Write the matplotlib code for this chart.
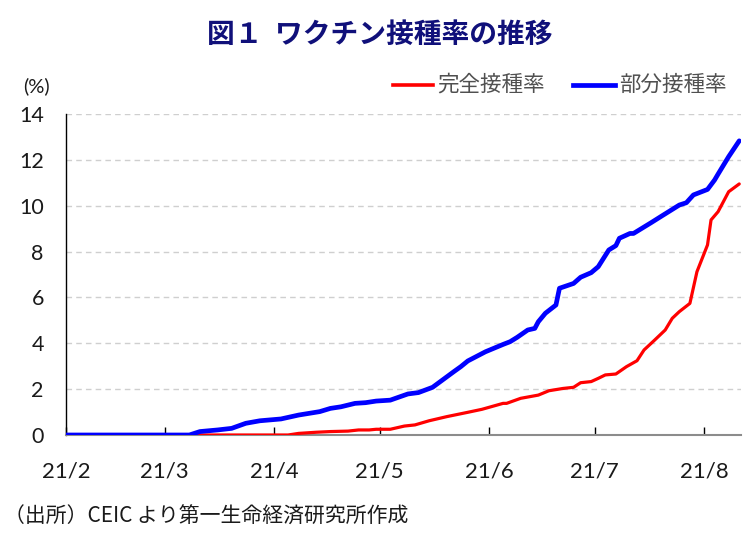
import matplotlib
matplotlib.use("Agg")
import matplotlib.pyplot as plt
import matplotlib.dates as mdates
import pandas as pd

# ---- data ----
partial_dates = ["2021-02-01", "2021-03-08", "2021-03-11", "2021-03-16", "2021-03-20", "2021-03-24",
                 "2021-03-28", "2021-04-03", "2021-04-08", "2021-04-14", "2021-04-17", "2021-04-20",
                 "2021-04-24", "2021-04-27", "2021-04-30", "2021-05-04", "2021-05-09", "2021-05-12",
                 "2021-05-16", "2021-05-22", "2021-05-24", "2021-05-26", "2021-05-31", "2021-06-05",
                 "2021-06-07", "2021-06-09", "2021-06-12", "2021-06-14", "2021-06-15", "2021-06-17",
                 "2021-06-20", "2021-06-21", "2021-06-25", "2021-06-27", "2021-06-30", "2021-07-02",
                 "2021-07-05", "2021-07-07", "2021-07-08", "2021-07-11", "2021-07-12", "2021-07-17",
                 "2021-07-20", "2021-07-25", "2021-07-27", "2021-07-29", "2021-08-02", "2021-08-04",
                 "2021-08-05", "2021-08-08", "2021-08-11"]
partial_vals = [0.0, 0.0, 0.15, 0.22, 0.29, 0.51,
                0.62, 0.70, 0.87, 1.02, 1.16, 1.23,
                1.38, 1.41, 1.48, 1.52, 1.79, 1.85,
                2.08, 2.76, 2.98, 3.23, 3.63, 3.95,
                4.07, 4.26, 4.58, 4.65, 4.94, 5.31,
                5.67, 6.40, 6.61, 6.88, 7.08, 7.34,
                8.07, 8.26, 8.58, 8.79, 8.79, 9.26,
                9.55, 10.03, 10.13, 10.47, 10.71, 11.12,
                11.38, 12.14, 12.83]

full_dates = ["2021-02-01", "2021-04-05", "2021-04-08", "2021-04-13", "2021-04-17", "2021-04-22",
              "2021-04-25", "2021-04-28", "2021-04-30", "2021-05-04", "2021-05-08", "2021-05-11",
              "2021-05-15", "2021-05-20", "2021-05-26", "2021-05-30", "2021-06-05", "2021-06-06",
              "2021-06-10", "2021-06-15", "2021-06-18", "2021-06-22", "2021-06-25", "2021-06-27",
              "2021-06-30", "2021-07-02", "2021-07-04", "2021-07-07", "2021-07-10", "2021-07-13",
              "2021-07-15", "2021-07-18", "2021-07-21", "2021-07-23", "2021-07-25", "2021-07-28",
              "2021-07-30", "2021-08-02", "2021-08-03", "2021-08-05", "2021-08-08", "2021-08-11"]
full_vals = [0.0, 0.0, 0.07, 0.12, 0.15, 0.17,
             0.22, 0.22, 0.25, 0.25, 0.39, 0.44,
             0.62, 0.80, 0.99, 1.12, 1.38, 1.38,
             1.60, 1.74, 1.93, 2.03, 2.08, 2.28,
             2.33, 2.47, 2.62, 2.66, 2.98, 3.24,
             3.71, 4.14, 4.58, 5.09, 5.38, 5.74,
             7.12, 8.29, 9.38, 9.74, 10.61, 10.95]

month_ticks = ["2021-02-01", "2021-03-01", "2021-04-01", "2021-05-01", "2021-06-01", "2021-07-01", "2021-08-01"]
month_labels = ["21/2", "21/3", "21/4", "21/5", "21/6", "21/7", "21/8"]
y_ticks = [0, 2, 4, 6, 8, 10, 12, 14]

title = "図１  ワクチン接種率の推移"
legend_full = "完全接種率"
legend_partial = "部分接種率"
source = "（出所）CEIC より第一生命経済研究所作成"

# ---- figure ----
plt.rcParams['font.family'] = ['Noto Sans CJK JP', 'DejaVu Sans']
fig = plt.figure(figsize=(7.56, 5.40), dpi=100)
ax = fig.add_axes([66/756, 105/540, (741-66)/756, (435-114)/540])

pd_dates = pd.to_datetime(partial_dates)
fd_dates = pd.to_datetime(full_dates)

ax.plot(fd_dates, full_vals, color="#ff0000", lw=2.3, solid_capstyle="round", zorder=3)
ax.plot(pd_dates, partial_vals, color="#0000ff", lw=3.4, solid_capstyle="round", zorder=4)

ax.set_xlim(pd.Timestamp("2021-02-01"), pd.Timestamp("2021-08-11 12:00"))
ax.set_ylim(0, 14)
ax.set_yticks(y_ticks)
ax.set_yticklabels([str(v) for v in y_ticks], family=['Lato', 'DejaVu Sans'], fontsize=15.5, color="#1a1a1a")
ax.set_xticks(pd.to_datetime(month_ticks))
ax.set_xticklabels(month_labels, family=['Lato', 'DejaVu Sans'], fontsize=16, color="#1a1a1a")

ax.tick_params(axis='y', length=0, pad=16)
ax.tick_params(axis='x', direction='in', length=6, width=1, color='#000000', pad=19)

for s in ["top", "right"]:
    ax.spines[s].set_visible(False)
ax.spines["left"].set_color("#000000")
ax.spines["left"].set_linewidth(1.0)
ax.spines["bottom"].set_color("#8c8c8c")
ax.spines["bottom"].set_linewidth(1.5)

ax.yaxis.grid(True, color="#cfcfcf", linestyle=(0, (4, 3)), lw=1.0)
ax.set_axisbelow(True)

# title
fig.text(380/756, 1 - 35/540, title, ha="center", va="center", fontsize=20,
         fontweight="bold", color="#10107a")
# (%)
fig.text(36/756, 1 - 86/540, "(%)", ha="center", va="center", fontsize=14.5,
         family=['Lato', 'DejaVu Sans'], color="#1a1a1a")

# legend (manual)
ly = 1 - 85/540
fig.add_artist(plt.Line2D([393/756, 433/756], [ly, ly], color="#ff0000", lw=2.6, transform=fig.transFigure))
fig.text(437/756, ly, legend_full, ha="left", va="center", fontsize=15.5, color="#505050")
fig.add_artist(plt.Line2D([573/756, 615/756], [ly, ly], color="#0000ff", lw=3.4, transform=fig.transFigure))
fig.text(619/756, ly, legend_partial, ha="left", va="center", fontsize=15.5, color="#505050")

# source
fig.text(4/756, 1 - 517/540, source, ha="left", va="center", fontsize=15, color="#1a1a1a")

fig.savefig("out.png", dpi=100)
